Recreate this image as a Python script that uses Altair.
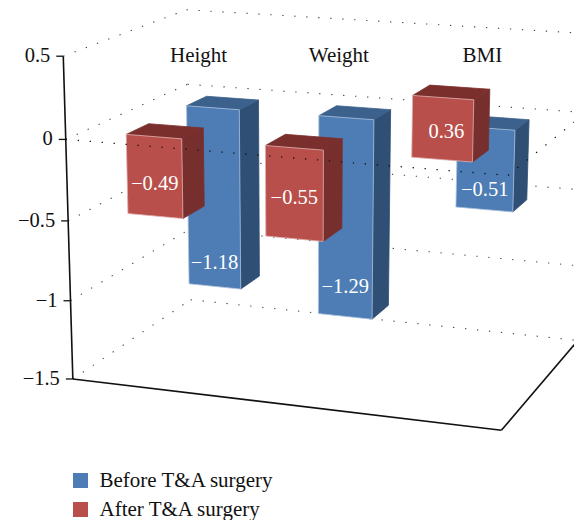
import numpy as np
import pandas as pd
import altair as alt

categories = ["Height", "Weight", "BMI"]
series_names = ["Before T&A surgery", "After T&A surgery"]
before = [-1.18, -1.29, -0.51]
after = [-0.49, -0.55, 0.36]
ticks = [0.5, 0, -0.5, -1, -1.5]
tick_labels = ["0.5", "0", "\u22120.5", "\u22121", "\u22121.5"]

FONT = "Liberation Serif"
W, H = 566, 512
sx = alt.Scale(domain=[8, 574], range=[0, W], nice=False, zero=False)
sy = alt.Scale(domain=[520, 8], range=[H, 0], nice=False, zero=False)

# camera: fitted from where the box corners of the 3D scene fall
calib = [
    ((0, 0, -1.5), (72.5, 378)), ((3, 0, -1.5), (501, 431)), ((3, 2, -1.5), (578, 340)),
    ((0, 2, -1.5), (191, 301)), ((0, 0, 0.5), (63, 57)), ((0, 2, 0.5), (186.5, 9)),
    ((3, 0, 0), (509, 175)), ((0, 0, 0), (66, 140)), ((0, 2, 0), (187.5, 84)),
    ((3, 2, 0), (585, 112.5)), ((3, 2, 0.5), (589, 34)), ((0, 0, -1), (70.5, 300)),
    ((0, 0, -0.5), (68, 221)),
]
A, b = [], []
for (X, Y, Z), (u, v) in calib:
    A.append([X, Y, Z, 1, 0, 0, 0, 0, -u * X, -u * Y, -u * Z]); b.append(u)
    A.append([0, 0, 0, 0, X, Y, Z, 1, -v * X, -v * Y, -v * Z]); b.append(v)
p = np.linalg.lstsq(np.array(A, float), np.array(b, float), rcond=None)[0]
P = np.append(p, 1.0).reshape(3, 4)


def proj(X, Y, Z):
    r = P @ np.array([X, Y, Z, 1.0])
    return float(r[0] / r[2]), float(r[1] / r[2])


def poly(pts, fill, stroke=None):
    d = pd.DataFrame({"x": [q[0] for q in pts], "y": [q[1] for q in pts], "o": range(len(pts))})
    kw = dict(interpolate="linear-closed", fill=fill, stroke=stroke or fill, strokeWidth=0.8)
    return alt.Chart(d).mark_line(**kw).encode(
        x=alt.X("x:Q", scale=sx, axis=None), y=alt.Y("y:Q", scale=sy, axis=None), order="o:Q")


def seg(a, b, kind="wall"):
    q = [proj(*a), proj(*b)]
    d = pd.DataFrame({"x": [q[0][0], q[1][0]], "y": [q[0][1], q[1][1]], "o": [0, 1]})
    if kind == "solid":
        m = alt.Chart(d).mark_line(color="#111111", strokeWidth=1.6, clip=True)
    elif kind == "zero":
        m = alt.Chart(d).mark_line(color="#111111", strokeWidth=1.3, strokeDash=[1.3, 10.7], clip=True)
    else:
        m = alt.Chart(d).mark_line(color="#444444", strokeWidth=1.1, strokeDash=[1.3, 10.7], clip=True)
    return m.encode(x=alt.X("x:Q", scale=sx, axis=None), y=alt.Y("y:Q", scale=sy, axis=None), order="o:Q")


layers = []
# dotted walls
for z in ticks:
    layers.append(seg((0, 0, z), (0, 2, z)))
    layers.append(seg((0, 2, z), (3, 2, z)))
layers.append(seg((3, 2, -1.5), (3, 0, -1.5), "solid"))
layers.append(seg((0, 0, -1.5), (3, 0, -1.5), "solid"))
layers.append(seg((0, 0, -1.5), (0, 0, 0.5), "solid"))

# bars
BAR_DX = 0.40
BAR_DY = 0.36
X_CENTRES = [0.507, 1.497, 2.492]
Y_ROW = {"before": 1.455, "after": 0.455}
COL = {
    "before": ("#4E7CB4", "#3B618C", "#2F4F75", "#A9C0DC"),
    "after": ("#B94F4B", "#7B2F2D", "#772F2E", "#DDAFAD"),
}


def box(i, row, v):
    xc = X_CENTRES[i]
    x0, x1 = xc - BAR_DX / 2, xc + BAR_DX / 2
    yc = Y_ROW[row]
    y0, y1 = yc - BAR_DY / 2, yc + BAR_DY / 2
    zt, zb = max(v, 0), min(v, 0)
    f, t, s, e = COL[row]
    out = []
    out.append(poly([proj(x1, y0, zt), proj(x1, y1, zt), proj(x1, y1, zb), proj(x1, y0, zb)], s))
    out.append(poly([proj(x0, y0, zt), proj(x1, y0, zt), proj(x1, y1, zt), proj(x0, y1, zt)], t))
    out.append(poly([proj(x0, y0, zt), proj(x1, y0, zt), proj(x1, y0, zb), proj(x0, y0, zb)], f, e))
    return out


for i, v in enumerate(before):
    layers += box(i, "before", v)
for i, v in enumerate(after):
    layers += box(i, "after", v)

# zero plane in front of the bars
layers.append(seg((0, 0, 0), (3, 0, 0), "zero"))
layers.append(seg((3, 0, 0), (3, 2, 0), "zero"))

# value labels
LAB_FRAC = {"before": [0.865, 0.85, 0.76], "after": [0.59, 0.55, 0.45]}
LAB_DX = {"before": [0, 0, 0], "after": [0, 0, 4]}
rows = []
for row, vals in (("before", before), ("after", after)):
    for i, v in enumerate(vals):
        q = proj(X_CENTRES[i], Y_ROW[row] - BAR_DY / 2, v * LAB_FRAC[row][i])
        rows.append({"x": q[0] + LAB_DX[row][i], "y": q[1], "t": f"{v:.2f}".replace("-", "\u2212")})
layers.append(alt.Chart(pd.DataFrame(rows)).mark_text(
    font=FONT, fontSize=20.5, color="#FFFFFF", baseline="middle").encode(
    x=alt.X("x:Q", scale=sx, axis=None), y=alt.Y("y:Q", scale=sy, axis=None), text="t:N"))

# value axis ticks and labels
trows = []
for z, lab in zip(ticks, tick_labels):
    q = proj(0, 0, z)
    trows.append({"x": q[0], "x2": q[0] - 7, "y": q[1], "t": lab})
td = pd.DataFrame(trows)
layers.append(alt.Chart(td).mark_rule(color="#111111", strokeWidth=1.3).encode(
    x=alt.X("x:Q", scale=sx, axis=None), x2="x2:Q", y=alt.Y("y:Q", scale=sy, axis=None)))
layers.append(alt.Chart(td).mark_text(
    font=FONT, fontSize=20.5, color="#111111", align="right", baseline="middle", dx=-13).encode(
    x=alt.X("x:Q", scale=sx, axis=None), y=alt.Y("y:Q", scale=sy, axis=None), text="t:N"))

# category labels
crows = []
CAT_Y = 55.5
CAT_X = [0.49, 1.51, 2.51]
for i, c in enumerate(categories):
    crows.append({"x": proj(CAT_X[i], 1.08, 0.5)[0], "y": CAT_Y, "t": c})
layers.append(alt.Chart(pd.DataFrame(crows)).mark_text(
    font=FONT, fontSize=21, color="#111111", baseline="middle").encode(
    x=alt.X("x:Q", scale=sx, axis=None), y=alt.Y("y:Q", scale=sy, axis=None), text="t:N"))

# legend
ld = pd.DataFrame({"s": series_names, "x": [100, 100], "y": [100, 100]})
layers.append(alt.Chart(ld).mark_square(opacity=0, size=225).encode(
    x=alt.X("x:Q", scale=sx, axis=None), y=alt.Y("y:Q", scale=sy, axis=None),
    fill=alt.Fill("s:N", scale=alt.Scale(domain=series_names, range=["#4E7CB4", "#B94F4B"]),
                  legend=alt.Legend(title=None, orient="none", legendX=62, legendY=462,
                                    symbolType="square", symbolSize=225, symbolOpacity=1,
                                    symbolStrokeWidth=0, labelFont=FONT, labelFontSize=21,
                                    labelColor="#111111", labelOffset=8.5, rowPadding=7,
                                    padding=0, labelLimit=300))))

chart = alt.layer(*layers).properties(
    width=W, height=H, padding=0, autosize=alt.AutoSizeParams(type="none"), background="#FFFFFF"
).configure_view(strokeWidth=0)

chart.save("out.html", embed_options={"renderer": "svg", "actions": False})
